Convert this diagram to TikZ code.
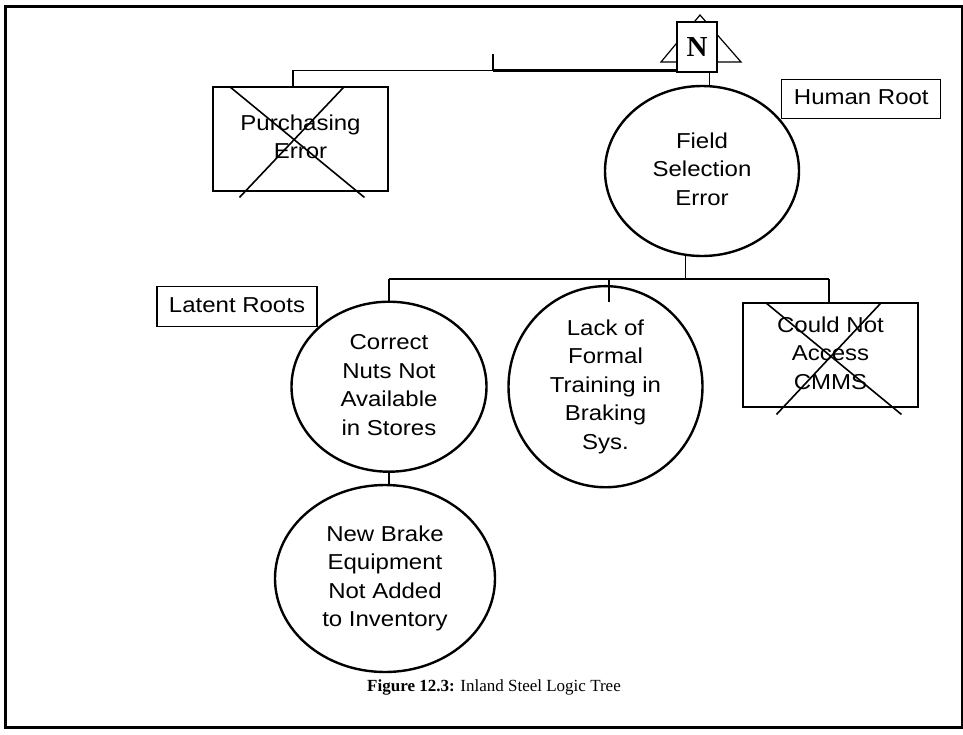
\documentclass[tikz,border=0pt]{standalone}
\usepackage{fontspec}
\usepackage{graphicx}
\usetikzlibrary{shapes.geometric,calc}
\newfontfamily\arialf{Liberation Sans}
\newfontfamily\tnrf{Liberation Serif}
\newcommand{\sqz}[1]{\scalebox{1}[0.9]{\begin{tabular}{@{}c@{}}#1\end{tabular}}}
\tikzset{
  every node/.style={font=\arialf\fontsize{24}{31.6}\selectfont, inner sep=0pt},
  ell/.style={ellipse, draw, line width=2.4pt},
  xbox/.style={rectangle, draw, line width=1.1pt},
  conn/.style={line width=1.4pt},
  thickconn/.style={line width=2.6pt},
  cross/.style={line width=1.6pt},
}
\begin{document}
\begin{tikzpicture}[x=1pt,y=-1pt]
\useasboundingbox (0,0) rectangle (963,734);
\draw[line width=3pt] (5,6) rectangle (962,727.5);

% N marker
\coordinate (tA) at (700,15);
\coordinate (tL) at (661,62);
\coordinate (tR) at (741,62);
\draw[line width=1.2pt] (tL) -- (tA) -- (tR) -- cycle;
\node[xbox, fill=white, minimum width=40, minimum height=50, font=\tnrf\bfseries\fontsize{29}{29}\selectfont] (N) at (697,47) {N};

% nodes
\node[ell, minimum width=194, minimum height=170] (fse) at (702,171) {\sqz{Field\\Selection\\Error}};
\node[xbox, minimum width=175, minimum height=104] (pe) at (300.5,139) {\raisebox{-3pt}{\sqz{Purchasing\\Error}}};
\node[xbox, minimum width=159, minimum height=39] (hr) at (861.3,98.6) {\sqz{Human Root}};
\node[xbox, minimum width=160, minimum height=40] (lr) at (237,306.7) {\sqz{Latent Roots}};
\node[ell, minimum width=195, minimum height=170] (cn) at (389,386.7) {\sqz{Correct\\Nuts Not\\Available\\in Stores}};
\node[ell, minimum width=194, minimum height=170] (lf) at (605.5,386.7) {\sqz{Lack of\\Formal\\Training in\\Braking\\Sys.}};
\node[xbox, minimum width=175, minimum height=104] (cna) at (830.5,355) {\sqz{Could Not\\Access\\CMMS}};
\node[ell, minimum width=220, minimum height=187] (nb) at (385,578.5) {\sqz{New Brake\\Equipment\\Not Added\\to Inventory}};
\node[font=\tnrf\fontsize{17}{19}\selectfont, anchor=base] (cap) at (494,691) {\textbf{Figure 12.3:} Inland Steel Logic Tree};

% crosses
\draw[cross] ($(pe.north west)+(17,0)$) -- ($(pe.north west)+(152,111)$);
\draw[cross] ($(pe.north west)+(132,0)$) -- ($(pe.north west)+(27,111)$);
\draw[cross] ($(cna.north west)+(23,0)$) -- ($(cna.north west)+(159,112)$);
\draw[cross] ($(cna.north west)+(139,0)$) -- ($(cna.north west)+(34,112)$);

% top connectors
\coordinate (topL) at (293,70.7);
\coordinate (tick) at (493,70.7);
\coordinate (tickT) at (493,54);
\draw[conn] (pe.north -| topL) -- (topL) -- (tick);
\draw[conn] (tickT) -- (tick);
\draw[thickconn] (tick) -- (tick -| N.west);
\coordinate (nbot) at (709.5,72);
\coordinate (fsetop) at (709.5,86.3);
\draw[conn] (nbot) -- (fsetop);

% lower connectors
\coordinate (fseb) at (685.7,254.8);
\coordinate (bar) at (685.7,279);
\coordinate (barL) at (389,279);
\coordinate (barM) at (609,279);
\coordinate (barR) at (829,279);
\coordinate (lftop) at (609,302.2);
\draw[conn] (fseb) -- (bar);
\draw[conn] (barL) -- (barR);
\draw[conn] (barL) -- (cn.north);
\draw[conn] (barM) -- (lftop);
\draw[conn] (barR) -- (barR |- cna.north);
\draw[conn] (cn.south) -- (cn.south |- nb.north);
\end{tikzpicture}
\end{document}
